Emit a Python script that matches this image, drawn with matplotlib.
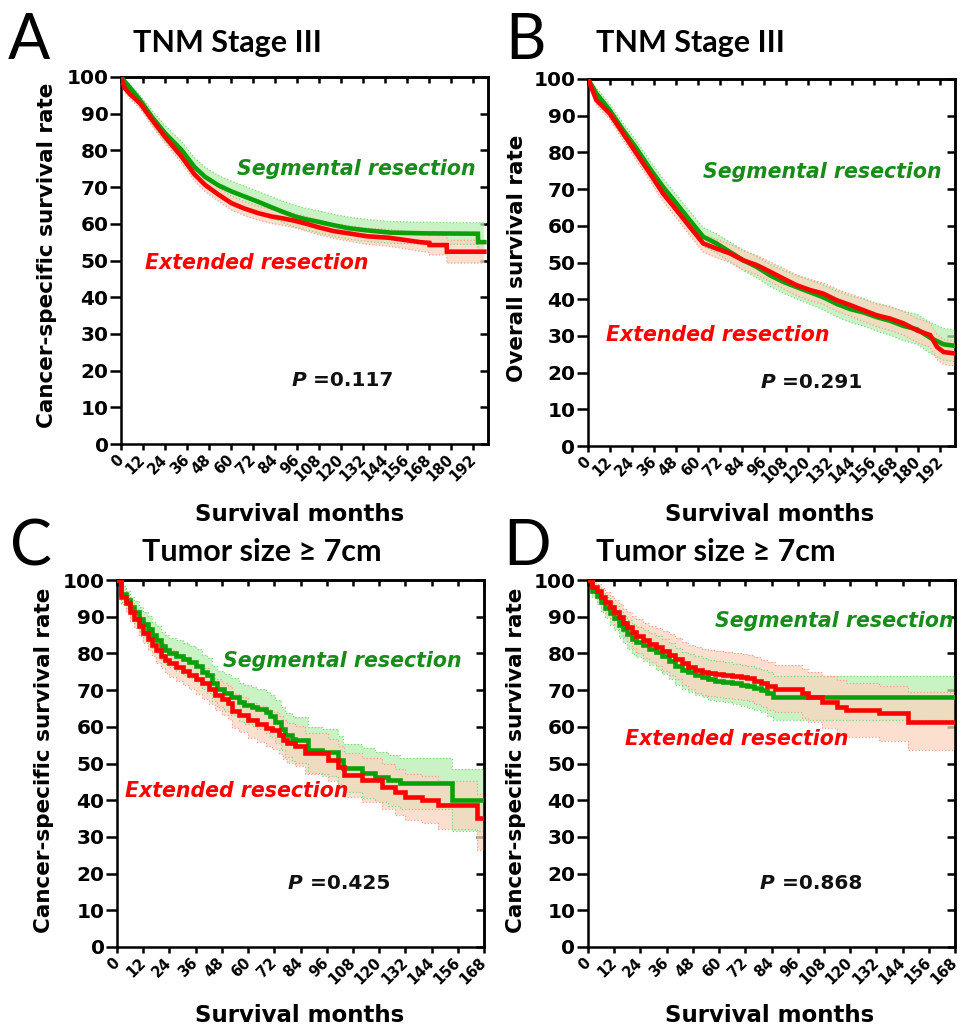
import matplotlib
matplotlib.use('Agg')
import matplotlib.pyplot as plt

W, H = 966, 1028

GREEN = '#0aa00a'
GREEN_TXT = '#188c18'
RED = '#ff0000'
GREEN_BAND = '#b8efb0'
RED_BAND = '#fbd5c0'

# ---- A: TNM stage III, cancer-specific survival ----
a_seg_t = [0, 5, 10.4, 17, 24, 33, 40, 45.8, 53, 60.3, 67, 74.8, 82, 88, 94.8, 101, 108, 116, 124, 134,
           147, 165, 194.5, 194.6, 198]
a_seg_s = [100, 97, 93.7, 89, 84.7, 80.1, 75.5, 72.8, 70.5, 68.8, 67.5, 66, 64.5, 63.3, 62, 61.2, 60.5, 59.6,
           58.8, 58.2, 57.6, 57.4, 57.3, 55, 55]
a_seg_hi = [100, 98, 95, 90.8, 86.8, 82.4, 78, 75.4, 73.2, 71.6, 70.3, 68.8, 67.4, 66.2, 65, 64.2, 63.5, 62.6,
            61.8, 61.2, 60.6, 60.4, 60.3, 60.3, 60.3]
a_seg_lo = [100, 96, 92.2, 87, 82.5, 77.8, 73, 70.2, 67.8, 66, 64.6, 63.1, 61.6, 60.4, 59.1, 58.3, 57.5, 56.6,
            55.8, 55.2, 54.7, 54.5, 54.4, 52, 52]
a_ext_t = [0, 2, 5, 10.4, 17, 24, 33, 40, 45.8, 53, 60.3, 67, 74.8, 82, 88, 94.8, 101, 108, 116, 124, 134,
           146, 156, 163, 168, 168.1, 177.5, 177.6, 198]
a_ext_s = [100, 97, 95.3, 92.8, 88.3, 83.7, 78.3, 73.5, 70.6, 68, 65.6, 64.2, 62.9, 62, 61.5, 60.8, 60, 59,
           58, 57.4, 56.6, 56.2, 55.5, 55, 54.8, 54.2, 54.2, 52.4, 52.4]
a_ext_hi = [100, 98, 96.6, 94.2, 89.9, 85.4, 80, 75.3, 72.4, 69.8, 67.5, 66.1, 64.8, 63.9, 63.4, 62.7, 62, 61,
            60, 59.5, 58.8, 58.5, 57.9, 57.5, 57.4, 56.9, 56.9, 55.5, 55.5]
a_ext_lo = [100, 96, 94, 91.4, 86.7, 82, 76.6, 71.7, 68.8, 66.2, 63.7, 62.3, 61, 60.1, 59.6, 58.9, 58, 57,
            56, 55.3, 54.4, 53.9, 53.1, 52.5, 52.2, 51.5, 51.5, 49.3, 49.3]

# ---- B: TNM stage III, overall survival ----
b_seg_t = [0, 4.5, 11.8, 19.1, 26.4, 33.7, 40.9, 48.2, 55.5, 62.8, 70, 77.3, 84.6, 91.9, 99.2, 106.5, 113.7,
           121, 128.3, 135.6, 142.9, 150.1, 157.4, 164.7, 172, 179.3, 186.5, 193.8, 200]
b_seg_s = [100, 96.1, 91.5, 86.1, 81.1, 75.6, 70.6, 66.1, 61.5, 57, 55.2, 52.9, 50.6, 48.8, 46.5, 44.7, 43.3,
           41.9, 40.5, 38.7, 37.3, 36.4, 35.1, 34.1, 32.7, 31.8, 29.5, 27.7, 27.3]
b_seg_hi = [100, 97.5, 93.2, 88, 83.1, 77.7, 72.8, 68.4, 63.9, 59.5, 57.8, 55.6, 53.4, 51.7, 49.5, 47.8, 46.5,
            45.2, 43.9, 42.2, 40.9, 40.1, 38.9, 38, 36.7, 35.9, 33.7, 32, 31.6]
b_seg_lo = [100, 94.7, 89.8, 84.2, 79.1, 73.5, 68.4, 63.8, 59.1, 54.5, 52.6, 50.2, 47.8, 45.9, 43.5, 41.6, 40.1,
            38.6, 37.1, 35.2, 33.7, 32.7, 31.3, 30.2, 28.7, 27.7, 25.3, 23.4, 23]
b_ext_t = [0, 4.5, 11.8, 19.1, 26.4, 33.7, 40.9, 48.2, 55.5, 62.8, 70, 77.3, 84.6, 91.9, 99.2, 106.5, 113.7,
           121, 128.3, 135.6, 142.9, 150.1, 157.4, 164.7, 172, 179.3, 186.5, 190.2, 193.8, 200]
b_ext_s = [100, 94.3, 90.6, 85.2, 79.7, 74.3, 68.8, 64.3, 59.7, 55.2, 53.8, 52.5, 50.6, 49.3, 47.5, 45.6, 43.8,
           42.5, 41.5, 39.7, 38.4, 37, 35.6, 34.7, 33.4, 31.5, 30.2, 27, 25.6, 25.2]
b_ext_hi = [100, 95.6, 92.2, 87, 81.6, 76.3, 70.9, 66.5, 62, 57.6, 56.3, 55, 53.2, 51.9, 50.2, 48.4, 46.6,
            45.4, 44.4, 42.7, 41.4, 40.1, 38.7, 37.9, 36.6, 34.8, 33.5, 30.4, 29, 28.6]
b_ext_lo = [100, 93, 89, 83.4, 77.8, 72.3, 66.7, 62.1, 57.4, 52.8, 51.3, 50, 48, 46.7, 44.8, 42.8, 41,
            39.6, 38.6, 36.7, 35.4, 33.9, 32.5, 31.5, 30.2, 28.2, 26.9, 23.6, 22.2, 21.8]

# ---- C: tumor size >= 7cm, cancer-specific survival (steps) ----
c_seg_t = [0, 2, 4, 6, 8, 10, 12, 14, 16, 18, 20, 22, 24, 27, 30, 33, 36, 39, 41, 43.5, 46, 49, 52, 55.7,
           58, 61.8, 64, 68, 70, 72.5, 75, 77, 80, 81.5, 87.6, 94, 101, 103.5, 112, 118, 124, 129.5, 153.2, 168]
c_seg_s = [100, 96.3, 94.5, 92.6, 91.2, 89.3, 88, 86.7, 85, 83.7, 82.1, 81, 80.2, 79.4, 78.5, 77.6, 76.6, 75,
           74, 71.8, 70.3, 69.3, 68.2, 66.8, 66, 65.5, 64.8, 64, 63, 61.4, 59.5, 57.8, 56.8, 56.4, 53.7, 53.1,
           50.9, 48.7, 47.4, 46.4, 45.4, 44.6, 40.1, 40.1]
c_seg_hi = [100, 98.5, 97, 95.5, 94.2, 92.6, 91.3, 90.2, 88.6, 87.4, 85.9, 84.9, 84.2, 83.6, 82.8, 82, 81.1,
            79.6, 78.7, 76.6, 75.2, 74.3, 73.3, 72, 71.3, 70.9, 70.3, 69.6, 68.7, 67.2, 65.4, 63.8, 62.9, 62.6,
            60, 59.5, 57.4, 55.3, 54.1, 53.2, 52.3, 51.6, 48.5, 48.5]
c_seg_lo = [100, 94, 92, 89.8, 88.2, 86.1, 84.7, 83.2, 81.4, 80, 78.3, 77.1, 76.2, 75.2, 74.2, 73.2, 72.1,
            70.4, 69.3, 67, 65.4, 64.3, 63.1, 61.6, 60.7, 60.1, 59.3, 58.4, 57.3, 55.6, 53.6, 51.8, 50.7, 50.2,
            47.4, 46.7, 44.4, 42.1, 40.7, 39.6, 38.5, 37.6, 31.7, 31.7]
c_ext_t = [0, 2, 4, 6, 8, 10, 12, 14, 16, 18, 20, 22, 24, 27, 30, 33, 36, 39, 42, 45, 48, 51, 52.5, 56, 60,
           64, 68, 71, 74, 76, 78, 81.5, 86.1, 96.7, 101.3, 104, 112, 121.1, 127.2, 131.8, 139.4, 147, 164.6, 168]
c_ext_s = [100, 95.5, 93.6, 91.3, 89.4, 87.5, 85.6, 84, 82.4, 80.8, 79.4, 78.2, 77.3, 76.2, 75.2, 74.2, 73,
           71.8, 70.3, 68.8, 67.6, 66.6, 64.3, 63.3, 61.8, 60.8, 59.8, 59, 57.8, 56.5, 55.5, 54.8, 52.8, 51,
           49.1, 46.9, 45.5, 43.7, 42.3, 40.9, 40.1, 38.7, 35.1, 35.1]
c_ext_hi = [100, 97.5, 95.8, 93.7, 92, 90.2, 88.5, 87, 85.6, 84.1, 82.8, 81.7, 80.9, 79.9, 79, 78.1, 77,
            75.9, 74.5, 73.1, 72, 71.1, 68.9, 68, 66.6, 65.7, 64.8, 64.1, 63, 61.8, 60.9, 60.3, 58.4, 56.7,
            54.9, 52.8, 51.5, 49.8, 48.5, 47.2, 46.5, 45.2, 41.8, 41.8]
c_ext_lo = [100, 93.5, 91.4, 88.9, 86.8, 84.8, 82.7, 81, 79.2, 77.5, 76, 74.7, 73.7, 72.5, 71.4, 70.3, 69,
            67.7, 66.1, 64.5, 63.2, 62.1, 59.7, 58.6, 57, 55.9, 54.8, 53.9, 52.6, 51.2, 50.1, 49.3, 47.2, 45.3,
            43.3, 41, 39.5, 37.6, 36.1, 34.6, 33.7, 32.2, 26.5, 26.5]

# ---- D: tumor size >= 7cm, overall survival (steps) ----
d_seg_t = [0, 2, 4, 6, 8, 10, 12, 14, 16, 18, 20, 22, 25, 28, 31, 34, 37, 40, 43, 46, 49, 52, 55, 58, 62,
           66, 70, 73, 76, 79, 82, 84.6, 168]
d_seg_s = [100, 97, 95.6, 94, 92.5, 91, 89.6, 87.8, 86.6, 85.2, 84, 83.2, 82.2, 81.3, 80.3, 79.3, 78, 76.6,
           75.4, 74.8, 74.1, 73.5, 72.9, 72.6, 72.3, 71.8, 71.4, 71, 70.5, 70, 69.1, 68.2, 68.2]
d_seg_hi = [100, 98.5, 97.5, 96.5, 95.3, 94, 92.8, 91.2, 90.2, 89, 88, 87.3, 86.4, 85.6, 84.7, 83.8, 82.7,
            81.4, 80.3, 79.8, 79.2, 78.7, 78.1, 77.8, 77.6, 77.2, 76.8, 76.5, 76, 75.6, 74.8, 73.9, 73.9]
d_seg_lo = [100, 95.3, 93.5, 91.4, 89.6, 87.8, 86.3, 84.3, 82.8, 81.3, 79.9, 79, 77.8, 76.8, 75.6, 74.5, 73,
            71.5, 70.2, 69.5, 68.7, 68, 67.4, 67, 66.7, 66.1, 65.7, 65.2, 64.6, 64, 63, 61.8, 61.8]
d_ext_t = [0, 2, 4, 6, 8, 10, 12, 14, 16, 18, 20, 22, 25, 28, 31, 34, 37, 40, 43, 46, 49, 52, 55, 58, 62,
           66, 70, 73, 76, 79, 82, 85.6, 97.8, 100.5, 107, 113.8, 118, 133, 146.6, 168]
d_ext_s = [100, 98, 97, 95.5, 94.1, 92.6, 91.2, 90, 88.3, 87.2, 85.8, 84.8, 83.6, 82.6, 81.7, 80.6, 79.6,
           78.6, 77.3, 76.4, 75.5, 75, 74.6, 74.3, 74.1, 73.8, 73.5, 73.2, 72.5, 71.9, 71.1, 70.4, 69.1, 68.2,
           66.8, 65.5, 64.6, 63.7, 61.4, 61.4]
d_ext_hi = [100, 99.3, 98.8, 97.8, 96.8, 95.6, 94.5, 93.5, 92.2, 91.3, 90.2, 89.4, 88.4, 87.6, 86.9, 86, 85.2,
            84.3, 83.2, 82.4, 81.7, 81.2, 80.9, 80.6, 80.4, 80.1, 79.8, 79.5, 78.9, 78.3, 77.6, 76.9, 75.8, 75,
            73.8, 72.7, 71.9, 71.2, 69.5, 69.5]
d_ext_lo = [100, 96.7, 95.2, 93.2, 91.4, 89.6, 87.9, 86.5, 84.4, 83.1, 81.4, 80.2, 78.8, 77.6, 76.5, 75.2, 74,
            72.9, 71.4, 70.4, 69.3, 68.8, 68.3, 68, 67.8, 67.5, 67.2, 66.9, 66.1, 65.5, 64.6, 63.9, 62.4, 61.4,
            59.8, 58.3, 57.3, 56.2, 53.7, 53.7]

letters = ['A', 'B', 'C', 'D']
titles = ['TNM Stage III', 'TNM Stage III', 'Tumor size \u2265 7cm', 'Tumor size \u2265 7cm']
ylabels = ['Cancer-specific survival rate', 'Overall survival rate',
           'Cancer-specific survival rate', 'Cancer-specific survival rate']
pvalues = ['0.117', '0.291', '0.425', '0.868']
xmaxes = [200, 200, 168, 168]
xlabel = 'Survival months'
seg_label = 'Segmental resection'
ext_label = 'Extended resection'

curves = [
    (a_seg_t, a_seg_s, a_seg_lo, a_seg_hi, a_ext_t, a_ext_s, a_ext_lo, a_ext_hi),
    (b_seg_t, b_seg_s, b_seg_lo, b_seg_hi, b_ext_t, b_ext_s, b_ext_lo, b_ext_hi),
    (c_seg_t, c_seg_s, c_seg_lo, c_seg_hi, c_ext_t, c_ext_s, c_ext_lo, c_ext_hi),
    (d_seg_t, d_seg_s, d_seg_lo, d_seg_hi, d_ext_t, d_ext_s, d_ext_lo, d_ext_hi),
]
stepped = [False, False, True, True]

# layout in pixels: axes box (left, top, right, bottom)
boxes = [(121, 77, 488, 444), (588, 79, 955, 446), (117, 580, 484, 947), (588, 580, 955, 947)]
letter_xy = [(8, 59), (505, 59), (10, 565), (503, 565)]
title_xy = [(133, 52), (596, 52), (142, 561), (596, 561)]
ylabel_xy = [(47, 255), (517, 258), (44, 760), (516, 760)]
xlabel_xy = [(300, 521), (770, 521), (300, 1022), (770, 1022)]
# text anchors in data units (month, %)
seg_xy = [(63, 75), (62.5, 74.7), (48.5, 77.9), (58, 88.8)]
ext_xy = [(13, 49.3), (9.8, 30.2), (3.7, 42.5), (16.9, 56.7)]
p_xy = [(93, 17.4), (94, 17.2), (78.3, 17.2), (78.7, 17.2)]

SPINE = 1.8
NUM = dict(fontfamily='DejaVu Sans', fontweight='bold')

fig = plt.figure(figsize=(W / 100, H / 100), dpi=100)


def fxy(x, y):
    return x / W, 1 - y / H


def band(ax, t, lo, hi, color, edge, step):
    kw = dict(step='post') if step else {}
    ax.fill_between(t, lo, hi, facecolor=color, edgecolor='none', alpha=0.75, zorder=1, **kw)
    ds = 'steps-post' if step else 'default'
    ax.plot(t, lo, ls=':', lw=0.9, color=edge, drawstyle=ds, zorder=1.5)
    ax.plot(t, hi, ls=':', lw=0.9, color=edge, drawstyle=ds, zorder=1.5)


for i in range(4):
    l, tp, r, b = boxes[i]
    ax = fig.add_axes([l / W, 1 - b / H, (r - l) / W, (b - tp) / H])
    st, ss, slo, shi, et, es, elo, ehi = curves[i]
    step = stepped[i]
    band(ax, st, slo, shi, GREEN_BAND, '#7fd87a', step)
    band(ax, et, elo, ehi, RED_BAND, '#f4a08e', step)
    ds = 'steps-post' if step else 'default'
    ax.plot(st, ss, color=GREEN, lw=3.3, drawstyle=ds, zorder=3, solid_joinstyle='miter')
    ax.plot(et, es, color=RED, lw=3.3, drawstyle=ds, zorder=4, solid_joinstyle='miter')

    xmax = xmaxes[i]
    xt = list(range(0, xmax - 7, 12))
    if xmax == 168:
        xt = list(range(0, 169, 12))
    yt = list(range(0, 101, 10))
    ax.set_xlim(0, xmax)
    ax.set_ylim(0, 100)
    ax.set_xticks(xt)
    ax.set_yticks(yt)
    ax.set_xticklabels([str(v) for v in xt], rotation=45, ha='right', va='center',
                       rotation_mode='anchor', fontsize=10.5, **NUM)
    ax.set_yticklabels([str(v) for v in yt], fontsize=14.5, **NUM)
    ax.tick_params(axis='y', direction='out', length=8, width=SPINE, pad=1)
    ax.tick_params(axis='x', direction='out', length=4.5, width=SPINE, pad=5)
    for sp in ax.spines.values():
        sp.set_linewidth(SPINE)

    top = ax.secondary_xaxis('top')
    top.set_xticks(xt)
    top.set_xticklabels([])
    top.tick_params(direction='in', length=4.5, width=SPINE)
    top.spines['top'].set_linewidth(SPINE)
    right = ax.secondary_yaxis('right')
    right.set_yticks(yt)
    right.set_yticklabels([])
    right.tick_params(direction='in', length=5.5, width=SPINE)
    right.spines['right'].set_linewidth(SPINE)

    ax.text(seg_xy[i][0], seg_xy[i][1], seg_label, color=GREEN_TXT, fontsize=14.8,
            fontstyle='italic', ha='left', va='center', zorder=5, **NUM)
    ax.text(ext_xy[i][0], ext_xy[i][1], ext_label, color=RED, fontsize=14.8,
            fontstyle='italic', ha='left', va='center', zorder=5, **NUM)
    pt = ax.text(p_xy[i][0], p_xy[i][1], 'P', fontsize=14.5, fontstyle='italic',
                 ha='left', va='center', color='#111111', **NUM)
    ax.annotate(' =' + pvalues[i], xy=(1, 0), xycoords=pt, ha='left', va='bottom',
                fontsize=14.5, color='#111111', **NUM)

    x, y = fxy(*letter_xy[i])
    fig.text(x, y, letters[i], fontsize=45, fontfamily='Lato', va='baseline', ha='left')
    x, y = fxy(*title_xy[i])
    fig.text(x, y, titles[i], fontsize=22, fontfamily=['Lato', 'DejaVu Sans'], fontweight='bold',
             va='baseline', ha='left')
    x, y = fxy(*ylabel_xy[i])
    fig.text(x, y, ylabels[i], rotation=90, ha='center', va='center', fontsize=15.5, **NUM)
    x, y = fxy(*xlabel_xy[i])
    fig.text(x, y, xlabel, ha='center', va='baseline', fontsize=16.5, **NUM)

fig.savefig('out.png', dpi=100)
